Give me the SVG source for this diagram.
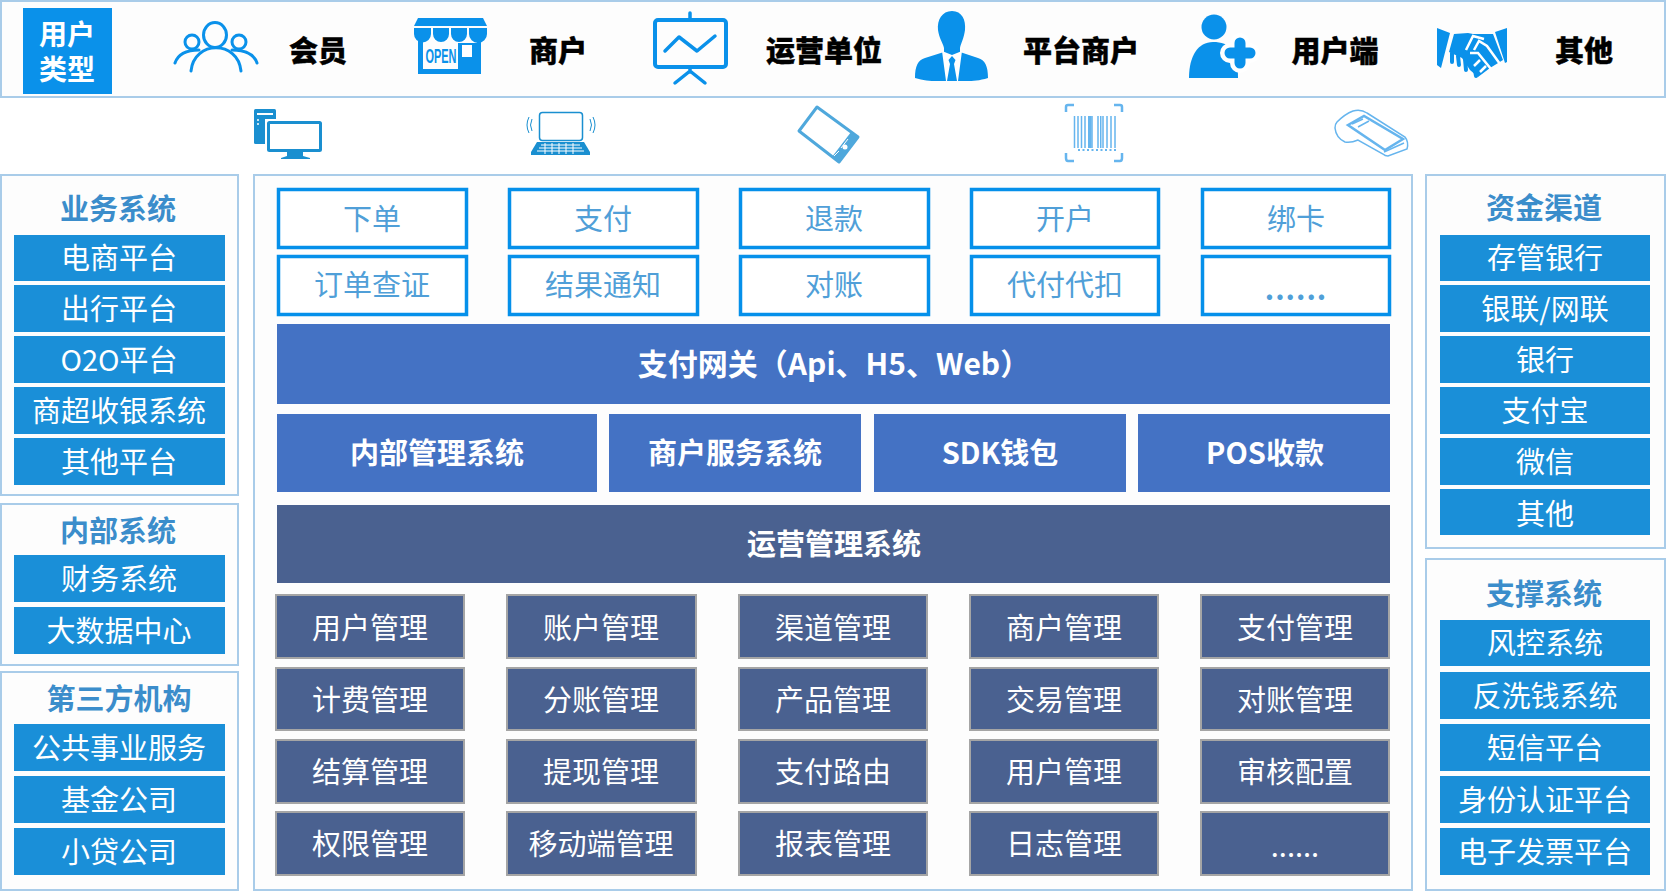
<svg xmlns="http://www.w3.org/2000/svg" width="1666" height="891" viewBox="0 0 1666 891">
<style>
text{font-family:"Noto Sans CJK SC","Microsoft YaHei","Noto Sans",sans-serif;text-anchor:middle}
.panel{fill:#fdfdfd;stroke:#a9cce9;stroke-width:2}
.side{fill:#1a8fd8}
.st{font-size:29px;fill:#fff}
.tt{font-size:29px;font-weight:700;fill:#3b8dcb}
.out{fill:#fff;stroke:#0590ea;stroke-width:3.5}
.ot{font-size:29px;fill:#509fd8}
.blue{fill:#4472c4}
.dark{fill:#4a6190}
.mg{fill:#4a6190;stroke:#a5a5a5;stroke-width:2}
.bt{font-size:29px;font-weight:700;fill:#fff}
.ut{font-size:29px;font-weight:900;fill:#000;stroke:#000;stroke-width:.4}
.ic{fill:#0a91ea}
.il{fill:none;stroke:#0a91ea;stroke-linecap:round;stroke-linejoin:round}
.l2{fill:none;stroke:#66b5ee}
</style>
<rect width="1666" height="891" fill="#fff"/>
<g id="user-types">
<rect class="panel" x="1" y="1" width="1664" height="96"/>
<g id="user-type-label"><rect x="23" y="8" width="89" height="86" fill="#0a91ea"/><text font-size="28" font-weight="700" fill="#fff"><tspan x="67" y="45">用户</tspan><tspan x="67" y="80">类型</tspan></text></g>
<g id="ut-member">
<g class="il" stroke-width="3"><ellipse cx="215" cy="35" rx="11.5" ry="12.5"/><path d="M191 71C194 40 238 40 241 71"/><circle cx="192" cy="42" r="7"/><circle cx="239" cy="42" r="7"/><path d="M175 63C178 54 186 50 199 50M257 63C254 54 246 50 232 50"/></g>
<text class="ut" x="318" y="62">会员</text></g>
<g id="ut-merchant">
<path class="ic" d="M418 18H483L487 26H414Z"/>
<path class="ic" d="M414 28H431V34A8.500 8.500 0 0 1 414 34ZM433 28H449V34A8 8 0 0 1 433 34ZM451 28H467V34A8 8 0 0 1 451 34ZM469 28H487V34A9 9 0 0 1 469 34Z"/>
<path class="ic" d="M418 38H423V69H458V43H477V38H481V74H418Z"/>
<rect x="462" y="45" width="10" height="12" fill="#fff"/>
<text x="441" y="63" font-size="20" font-weight="700" fill="#0a91ea" style="font-family:'Liberation Sans',sans-serif" textLength="31" lengthAdjust="spacingAndGlyphs">OPEN</text>
<text class="ut" x="558" y="62">商户</text></g>
<g id="ut-operator">
<rect class="il" x="655" y="20" width="71" height="47" rx="3" stroke-width="4"/>
<g class="il" stroke-width="3.500"><path d="M690 13V18M665 51L679 37L697 51L715 36M690 68V72M675 83L690 71L705 83"/></g>
<text class="ut" x="824" y="62">运营单位</text></g>
<g id="ut-platform">
<path class="ic" d="M952 11C962 11 966 20 965 30C964 38 961 43 960 48V52L978 58C985 60 988 66 988 78C975 82 967 81 957 81H947C937 81 927 82 915 78C915 66 918 60 925 58L944 52V48C943 43 939 38 938 30C937 20 942 11 952 11Z"/>
<path d="M942 51L952 55L962 51L958 81H946Z" fill="#fff"/>
<path class="ic" d="M952 56L955.500 60L954 64L957 81H947L950 64L948.500 60Z"/>
<text class="ut" x="1081" y="62">平台商户</text></g>
<g id="ut-client">
<circle class="ic" cx="1214" cy="27" r="12.500"/>
<path class="ic" d="M1189 78C1189 56 1198 42 1213 42C1230 42 1238 50 1238 78Z"/>
<path d="M1240 43V63M1230 53H1250" fill="none" stroke="#fff" stroke-width="20" stroke-linecap="round"/>
<path d="M1240 43V63M1230 53H1250" fill="none" stroke="#0a91ea" stroke-width="11" stroke-linecap="round"/>
<text class="ut" x="1335" y="62">用户端</text></g>
<g id="ut-other">
<path class="ic" d="M1437 28L1450 33L1441 68L1437 65ZM1507 28L1495 32L1505 63L1507 62Z"/>
<path class="ic" d="M1454 34L1468 33L1473 34L1493 34L1503 60L1490 68L1478 77L1470 70L1462 58L1449 52Z"/>
<path d="M1466 50L1473 36L1484 39M1474 50L1479 41L1487 46L1500 64M1470 53H1478L1491 69M1480 60L1474 66M1486 66L1480 72" fill="none" stroke="#fff" stroke-width="2.500"/>
<path d="M1452 53L1452 62M1458 56L1459 65M1465 59L1466 70M1475 70L1476 76" fill="none" stroke="#0a91ea" stroke-width="4" stroke-linecap="round"/>
<text class="ut" x="1584" y="62">其他</text></g>
</g>
<g id="terminal-icons">
<g id="t-pc"><rect x="254" y="109" width="22" height="35" rx="1.500" fill="#1a8fd0"/><rect x="257" y="113" width="16" height="2" fill="#fff"/><circle cx="258" cy="120" r="1" fill="#fff"/><circle cx="258" cy="124" r="1" fill="#fff"/><rect x="265" y="119" width="59" height="35" fill="#fff"/><rect x="268.500" y="122.500" width="52" height="28" rx="1" fill="#fff" stroke="#1a8fd0" stroke-width="3"/><path d="M287 152H303V156L310 158V159H281V158L287 156Z" fill="#1a8fd0"/></g>
<g id="t-laptop"><rect x="539.500" y="112.500" width="43" height="28" rx="3" fill="#fff" stroke="#1a8fd0" stroke-width="1.500"/><path d="M537 142H584L590 152V155H531V152Z" fill="#1a8fd0"/><path d="M541 145H580M539 148H582M537 151H584M545 143V154M552 143V154M559 143V154M566 143V154M573 143V154" stroke="#fff" fill="none"/><path d="M532 119Q529 125 532 131M529 117Q525 125 529 133M590 119Q593 125 590 131M593 117Q597 125 593 133" fill="none" stroke="#1a8fd0"/></g>
<g id="t-phone"><path d="M817 107L858 137L839 162L799 131Z" fill="#fff" stroke="#4fa8dc" stroke-width="3" stroke-linejoin="round"/><path d="M851 132L858 137L839 162L832 157Z" fill="#4fa8dc"/><circle cx="845" cy="147" r="2.500" fill="#fff"/><path d="M841 148L848 139M834 156L839 151" stroke="#fff" fill="none"/></g>
<g id="t-barcode"><path class="l2" stroke-width="2.500" d="M1066 112V107Q1066 105 1068 105H1074M1114 105H1120Q1122 105 1122 107V112M1066 153V158Q1066 161 1068 161H1074M1114 161H1120Q1122 161 1122 158V153"/><path class="l2" d="M1074.500 116V148M1078 116V148M1081.500 116V148M1085 116V148M1092 116V148M1098 116V148M1103 116V148M1107 116V148M1111 116V148M1115 116V148" stroke-width="1.500"/><rect x="1088" y="116" width="3.500" height="32" fill="#66b5ee"/><rect x="1100" y="116" width="1.500" height="32" fill="#66b5ee"/><path class="l2" d="M1078 150H1116" stroke-width="2" stroke-dasharray="2 2.500"/></g>
<g id="t-pos"><path d="M1337 122Q1345 114 1353 111Q1361 109 1367 113L1405 137Q1409 142 1407 149L1388 156Q1385 156 1383 154L1358 140Q1351 143 1345 142Q1336 138 1335 128Q1335 124 1337 122Z" fill="#fff" stroke="#66b5ee" stroke-width="1.500"/><path d="M1348 125L1364 116L1403 139L1385 150Z" fill="none" stroke="#66b5ee" stroke-width="2.500"/><path d="M1352 124L1363 119M1358 127L1369 121M1384 152L1404 143" fill="none" stroke="#66b5ee" stroke-width="1.500"/></g>
</g>
<g id="left-business"><rect class="panel" x="1" y="175" width="237" height="320"/><text class="tt" x="118" y="220">业务系统</text>
<rect class="side" x="14" y="235" width="211" height="46"/><text class="st" x="119" y="269">电商平台</text>
<rect class="side" x="14" y="285" width="211" height="47"/><text class="st" x="119" y="320">出行平台</text>
<rect class="side" x="14" y="336" width="211" height="47"/><text class="st" x="119" y="371">O2O平台</text>
<rect class="side" x="14" y="387" width="211" height="47"/><text class="st" x="119" y="422">商超收银系统</text>
<rect class="side" x="14" y="438" width="211" height="47"/><text class="st" x="119" y="473">其他平台</text></g>
<g id="left-internal"><rect class="panel" x="1" y="504" width="237" height="161"/><text class="tt" x="118" y="542">内部系统</text>
<rect class="side" x="14" y="555" width="211" height="47"/><text class="st" x="119" y="590">财务系统</text>
<rect class="side" x="14" y="607" width="211" height="47"/><text class="st" x="119" y="642">大数据中心</text></g>
<g id="left-third"><rect class="panel" x="1" y="672" width="237" height="218"/><text class="tt" x="119" y="710">第三方机构</text>
<rect class="side" x="14" y="724" width="211" height="47"/><text class="st" x="119" y="759">公共事业服务</text>
<rect class="side" x="14" y="776" width="211" height="47"/><text class="st" x="119" y="811">基金公司</text>
<rect class="side" x="14" y="828" width="211" height="47"/><text class="st" x="119" y="863">小贷公司</text></g>
<g id="right-funds"><rect class="panel" x="1426" y="175" width="239" height="373"/><text class="tt" x="1544" y="219">资金渠道</text>
<rect class="side" x="1440" y="235" width="210" height="46"/><text class="st" x="1545" y="269">存管银行</text>
<rect class="side" x="1440" y="285" width="210" height="47"/><text class="st" x="1545" y="320">银联/网联</text>
<rect class="side" x="1440" y="336" width="210" height="47"/><text class="st" x="1545" y="371">银行</text>
<rect class="side" x="1440" y="387" width="210" height="47"/><text class="st" x="1545" y="422">支付宝</text>
<rect class="side" x="1440" y="438" width="210" height="47"/><text class="st" x="1545" y="473">微信</text>
<rect class="side" x="1440" y="489" width="210" height="46"/><text class="st" x="1545" y="525">其他</text></g>
<g id="right-support"><rect class="panel" x="1426" y="559" width="239" height="331"/><text class="tt" x="1544" y="605">支撑系统</text>
<rect class="side" x="1440" y="620" width="210" height="46"/><text class="st" x="1545" y="654">风控系统</text>
<rect class="side" x="1440" y="672" width="210" height="47"/><text class="st" x="1545" y="707">反洗钱系统</text>
<rect class="side" x="1440" y="724" width="210" height="47"/><text class="st" x="1545" y="759">短信平台</text>
<rect class="side" x="1440" y="776" width="210" height="47"/><text class="st" x="1545" y="811">身份认证平台</text>
<rect class="side" x="1440" y="828" width="210" height="47"/><text class="st" x="1545" y="863">电子发票平台</text></g>
<g id="center"><rect class="panel" x="254" y="175" width="1158" height="715"/>
<g id="api-row1">
<rect class="out" x="278.500" y="189.500" width="188" height="58"/><text class="ot" x="372" y="230">下单</text>
<rect class="out" x="509.500" y="189.500" width="188" height="58"/><text class="ot" x="603" y="230">支付</text>
<rect class="out" x="740.500" y="189.500" width="188" height="58"/><text class="ot" x="834" y="230">退款</text>
<rect class="out" x="971.500" y="189.500" width="187" height="58"/><text class="ot" x="1065" y="230">开户</text>
<rect class="out" x="1202.500" y="189.500" width="187" height="58"/><text class="ot" x="1296" y="230">绑卡</text></g>
<g id="api-row2">
<rect class="out" x="278.500" y="256.500" width="188" height="58"/><text class="ot" x="372" y="296">订单查证</text>
<rect class="out" x="509.500" y="256.500" width="188" height="58"/><text class="ot" x="603" y="296">结果通知</text>
<rect class="out" x="740.500" y="256.500" width="188" height="58"/><text class="ot" x="834" y="296">对账</text>
<rect class="out" x="971.500" y="256.500" width="187" height="58"/><text class="ot" x="1065" y="296">代付代扣</text>
<rect class="out" x="1202.500" y="256.500" width="187" height="58"/><text class="ot" x="1296" y="300" font-weight="700" style="letter-spacing:1px">......</text></g>
<g id="gateway"><rect class="blue" x="277" y="324" width="1113" height="80"/><text class="bt" x="834" y="375" style="font-size:30px">支付网关（Api、H5、Web）</text></g>
<g id="sys-row">
<rect class="blue" x="277" y="414" width="320" height="78"/><text class="bt" x="437" y="464">内部管理系统</text>
<rect class="blue" x="609" y="414" width="252" height="78"/><text class="bt" x="735" y="464">商户服务系统</text>
<rect class="blue" x="874" y="414" width="252" height="78"/><text class="bt" x="1000" y="464">SDK钱包</text>
<rect class="blue" x="1138" y="414" width="252" height="78"/><text class="bt" x="1265" y="464">POS收款</text></g>
<g id="ops"><rect class="dark" x="277" y="505" width="1113" height="78"/><text class="bt" x="834" y="555">运营管理系统</text></g>
<g id="mgmt">
<rect class="mg" x="276" y="595" width="188" height="63"/><text class="st" x="370" y="639">用户管理</text>
<rect class="mg" x="507" y="595" width="189" height="63"/><text class="st" x="601" y="639">账户管理</text>
<rect class="mg" x="739" y="595" width="188" height="63"/><text class="st" x="833" y="639">渠道管理</text>
<rect class="mg" x="970" y="595" width="188" height="63"/><text class="st" x="1064" y="639">商户管理</text>
<rect class="mg" x="1201" y="595" width="188" height="63"/><text class="st" x="1295" y="639">支付管理</text>
<rect class="mg" x="276" y="668" width="188" height="62"/><text class="st" x="370" y="711">计费管理</text>
<rect class="mg" x="507" y="668" width="189" height="62"/><text class="st" x="601" y="711">分账管理</text>
<rect class="mg" x="739" y="668" width="188" height="62"/><text class="st" x="833" y="711">产品管理</text>
<rect class="mg" x="970" y="668" width="188" height="62"/><text class="st" x="1064" y="711">交易管理</text>
<rect class="mg" x="1201" y="668" width="188" height="62"/><text class="st" x="1295" y="711">对账管理</text>
<rect class="mg" x="276" y="740" width="188" height="63"/><text class="st" x="370" y="783">结算管理</text>
<rect class="mg" x="507" y="740" width="189" height="63"/><text class="st" x="601" y="783">提现管理</text>
<rect class="mg" x="739" y="740" width="188" height="63"/><text class="st" x="833" y="783">支付路由</text>
<rect class="mg" x="970" y="740" width="188" height="63"/><text class="st" x="1064" y="783">用户管理</text>
<rect class="mg" x="1201" y="740" width="188" height="63"/><text class="st" x="1295" y="783">审核配置</text>
<rect class="mg" x="276" y="812" width="188" height="63"/><text class="st" x="370" y="855">权限管理</text>
<rect class="mg" x="507" y="812" width="189" height="63"/><text class="st" x="601" y="855">移动端管理</text>
<rect class="mg" x="739" y="812" width="188" height="63"/><text class="st" x="833" y="855">报表管理</text>
<rect class="mg" x="970" y="812" width="188" height="63"/><text class="st" x="1064" y="855">日志管理</text>
<rect class="mg" x="1201" y="812" width="188" height="63"/><text class="st" x="1295" y="857">......</text>
</g></g>
<g id="connectors"></g>
</svg>
